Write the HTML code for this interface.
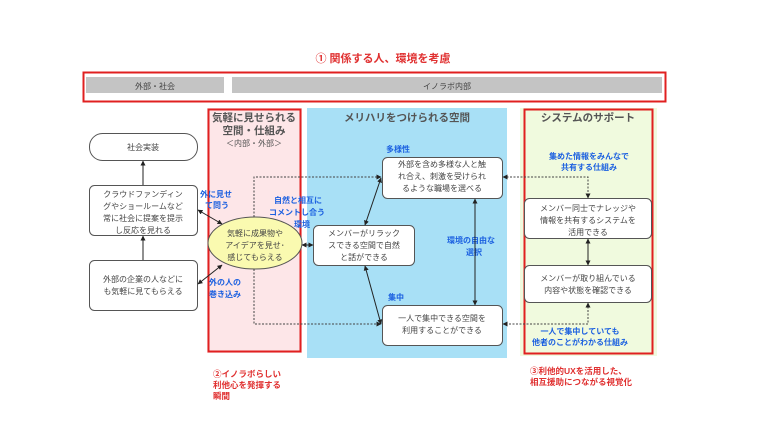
<!DOCTYPE html>
<html><head><meta charset="utf-8"><style>
body{margin:0;background:#fff}
svg text{font-family:"Liberation Sans","Noto Sans CJK JP",sans-serif}
</style></head><body>
<svg width="768" height="432" viewBox="0 0 768 432" xmlns="http://www.w3.org/2000/svg">
<defs>
<marker id="a" viewBox="0 0 10 10" refX="9" refY="5" markerWidth="5" markerHeight="5" orient="auto-start-reverse"><path d="M0,0L10,5L0,10z" fill="#222"/></marker>
</defs>
<rect width="768" height="432" fill="#fff"/>
<text x="383" y="62" font-size="11" fill="#e03030" text-anchor="middle" font-weight="bold">① 関係する人、環境を考慮</text>
<rect x="83.5" y="72.5" width="582" height="29" fill="none" stroke="#e02020" stroke-width="2"/>
<rect x="86" y="77" width="138" height="16" fill="#c4c4c4"/>
<text x="155" y="89" font-size="8" fill="#444" text-anchor="middle">外部・社会</text>
<rect x="232" y="77" width="430" height="16" fill="#c4c4c4"/>
<text x="447" y="89" font-size="8" fill="#444" text-anchor="middle">イノラボ内部</text>

<rect x="207" y="108" width="95" height="245" fill="#fde6e8"/>
<rect x="208.5" y="109.5" width="92" height="242" fill="none" stroke="#e02020" stroke-width="2"/>
<text x="254" y="121" font-size="10.5" fill="#555" text-anchor="middle" font-weight="bold">気軽に見せられる</text>
<text x="254" y="134" font-size="10.5" fill="#555" text-anchor="middle" font-weight="bold">空間・仕組み</text>
<text x="254" y="146" font-size="8" fill="#555" text-anchor="middle">＜内部・外部＞</text>

<rect x="307" y="108" width="200" height="250" fill="#a8e0f6"/>
<text x="407" y="121" font-size="10.5" fill="#555" text-anchor="middle" font-weight="bold">メリハリをつけられる空間</text>

<rect x="520" y="108" width="137" height="248" fill="#f0fade"/>
<rect x="524.5" y="109.5" width="128" height="244" fill="none" stroke="#e02020" stroke-width="2"/>
<text x="588" y="121" font-size="10.5" fill="#555" text-anchor="middle" font-weight="bold">システムのサポート</text>

<g fill="#fff" stroke="#555" stroke-width="1">
<rect x="89.5" y="133.5" width="108" height="27" rx="13"/>
<rect x="89.5" y="185.5" width="108" height="50" rx="5"/>
<rect x="89.5" y="260.5" width="108" height="50" rx="5"/>
<rect x="313.5" y="225.5" width="101" height="40" rx="5"/>
<rect x="382.5" y="157.5" width="120" height="41" rx="5"/>
<rect x="382.5" y="305.5" width="120" height="40" rx="5"/>
<rect x="524.5" y="198.5" width="127" height="40" rx="5"/>
<rect x="524.5" y="265.5" width="127" height="37" rx="5"/>
</g>
<ellipse cx="255" cy="243" rx="47" ry="26" fill="#fafab0" stroke="#555"/>

<g font-size="8" fill="#444" text-anchor="middle">
<text x="143" y="150">社会実装</text>
<text x="143" y="197">クラウドファンディン</text>
<text x="143" y="209">グやショールームなど</text>
<text x="143" y="221">常に社会に提案を提示</text>
<text x="143" y="233">し反応を見れる</text>
<text x="143" y="282">外部の企業の人などに</text>
<text x="143" y="294">も気軽に見てもらえる</text>
<text x="255" y="236">気軽に成果物や</text>
<text x="255" y="248">アイデアを見せ･</text>
<text x="255" y="260">感じてもらえる</text>
<text x="364" y="236">メンバーがリラック</text>
<text x="364" y="248">スできる空間で自然</text>
<text x="364" y="260">と話ができる</text>
<text x="442" y="167">外部を含め多様な人と触</text>
<text x="442" y="179">れ合え、刺激を受けられ</text>
<text x="442" y="191">るような職場を選べる</text>
<text x="442" y="321">一人で集中できる空間を</text>
<text x="442" y="333">利用することができる</text>
<text x="588" y="211">メンバー同士でナレッジや</text>
<text x="588" y="223">情報を共有するシステムを</text>
<text x="588" y="235">活用できる</text>
<text x="588" y="281">メンバーが取り組んでいる</text>
<text x="588" y="293">内容や状態を確認できる</text>
</g>

<g font-size="8" fill="#1a5fe0" font-weight="bold">
<text x="200" y="197">外に見せ</text><text x="205" y="208">て問う</text>
<text x="274" y="203">自然と相互に</text><text x="269" y="215">コメントし合う</text><text x="294" y="227">環境</text>
<text x="209" y="285">外の人の</text><text x="209" y="297">巻き込み</text>
<text x="386" y="152">多様性</text>
<text x="388" y="300">集中</text>
<text x="447" y="243">環境の自由な</text><text x="466" y="255">選択</text>
<text x="589" y="159" text-anchor="middle">集めた情報をみんなで</text><text x="589" y="170" text-anchor="middle">共有する仕組み</text>
<text x="580" y="334" text-anchor="middle">一人で集中していても</text><text x="580" y="345" text-anchor="middle">他者のことがわかる仕組み</text>
</g>

<g font-size="8.5" fill="#e03030" font-weight="bold">
<text x="213" y="377">②イノラボらしい</text><text x="213" y="388">利他心を発揮する</text><text x="213" y="399">瞬間</text>
<text x="530" y="374">③利他的UXを活用した、</text><text x="530" y="385">相互援助につながる視覚化</text>
</g>

<g stroke="#222" stroke-width="1" fill="none">
<line x1="143" y1="260" x2="143" y2="236" marker-end="url(#a)"/>
<line x1="143" y1="185" x2="143" y2="161" marker-end="url(#a)"/>
<line x1="198" y1="210" x2="222" y2="224" marker-start="url(#a)" marker-end="url(#a)"/>
<line x1="198" y1="284" x2="222" y2="265" marker-start="url(#a)" marker-end="url(#a)"/>
<line x1="302" y1="245" x2="313" y2="245" marker-start="url(#a)" marker-end="url(#a)"/>
<line x1="365" y1="225" x2="381" y2="178" marker-start="url(#a)" marker-end="url(#a)"/>
<line x1="365" y1="266" x2="381" y2="324" marker-start="url(#a)" marker-end="url(#a)"/>
<line x1="475" y1="199" x2="475" y2="305" marker-start="url(#a)" marker-end="url(#a)"/>
<line x1="588" y1="239" x2="588" y2="265" marker-start="url(#a)" marker-end="url(#a)"/>
</g>
<g stroke="#444" stroke-width="1" fill="none" stroke-dasharray="2,1.5">
<polyline points="254,217 254,177 381,177" marker-end="url(#a)"/>
<polyline points="254,269 254,324 381,324" marker-end="url(#a)"/>
<polyline points="503,177 588,177 588,198" marker-start="url(#a)" marker-end="url(#a)"/>
<polyline points="588,303 588,324 503,324" marker-start="url(#a)" marker-end="url(#a)"/>
</g>
</svg>
</body></html>
